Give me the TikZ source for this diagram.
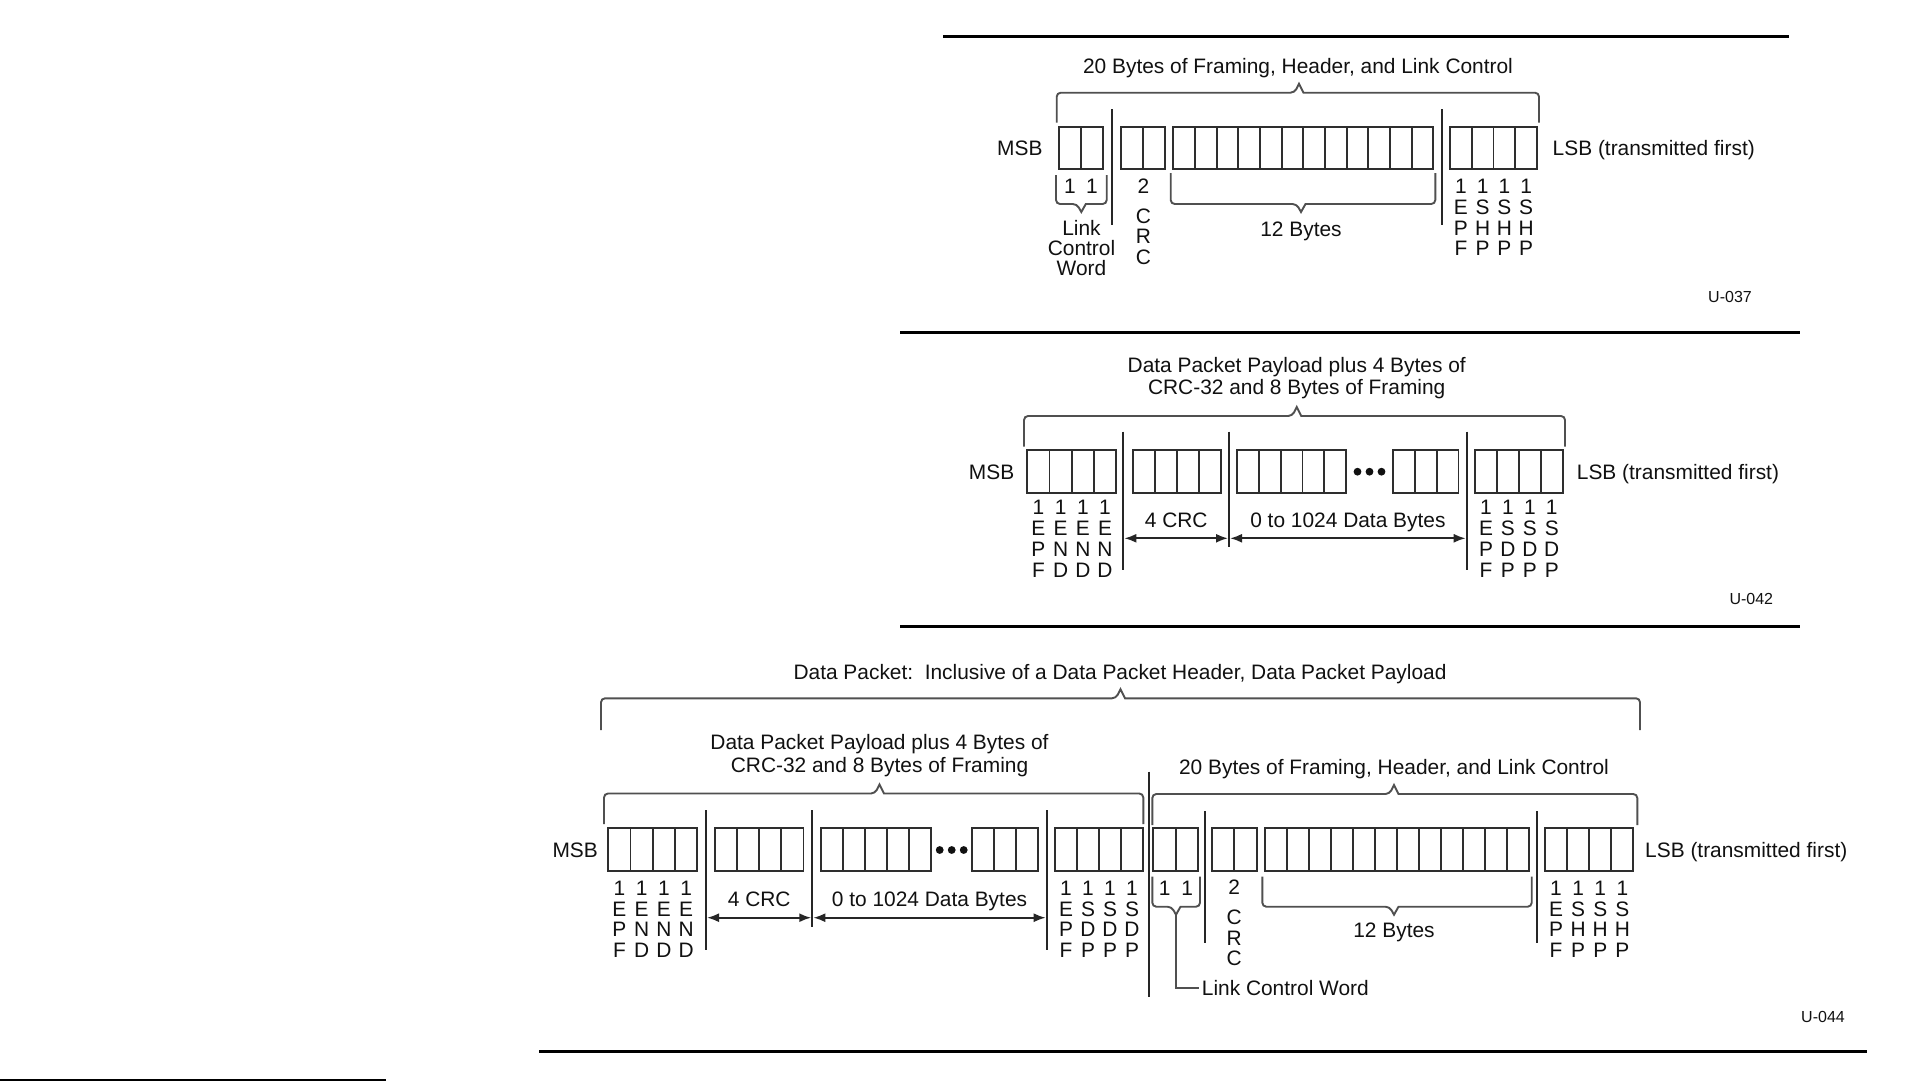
\documentclass[tikz,border=0pt]{standalone}
\usepackage{fontspec}
\setmainfont{Liberation Sans}
\usetikzlibrary{arrows.meta}
\definecolor{txtc}{HTML}{111111}
\definecolor{boxc}{HTML}{2E2E2E}
\definecolor{bracec}{HTML}{505050}
\definecolor{sepc}{HTML}{262626}
\newcommand\lbfont{\fontsize{20.9}{20.9}\selectfont}
\newcommand\ufont{\fontsize{16}{16}\selectfont}
\tikzset{
  cellgrp/.style={draw=boxc, line width=1.8pt, inner sep=0pt, outer sep=0pt, anchor=north west},
  celldiv/.style={draw=boxc, line width=1.8pt},
  lbl/.style={font=\lbfont, text=txtc, inner sep=0pt, anchor=base},
  ulbl/.style={font=\ufont, text=txtc, inner sep=0pt, anchor=base east},
  brace/.style={draw=bracec, line width=1.9pt},
  sepline/.style={draw=sepc, line width=1.9pt},
  rulel/.style={draw=black, line width=3pt},
  dimarrow/.style={draw=sepc, line width=2pt, {Latex[length=12pt,width=9pt]}-{Latex[length=12pt,width=9pt]}},
  dotc/.style={fill=txtc},
}
% name, x, ytop, n, cell width, height
\newcommand\cellgroup[6]{%
  \node[cellgrp, minimum width={(#4)*(#5)*1pt}, minimum height={(#6)*1pt}] (#1) at (#2,#3) {};
  \foreach \k in {1,...,#4}{\ifnum\k<#4\relax\draw[celldiv] ({#2+\k*#5},#3) -- ({#2+\k*#5},{#3+#6});\fi}%
}
% x1, x2, ytop, yend, tipx
\newcommand\topbrace[5]{%
  \draw[brace] (#1,#4) [rounded corners=4pt] -- (#1,#3) -- ({#5-4.5},#3) [sharp corners] -- (#5,{#3-9}) -- ({#5+4.5},#3) [rounded corners=4pt] -- (#2,#3) -- (#2,#4);}
% x1, x2, ytop, ybot, tipx
\newcommand\botbrace[5]{%
  \draw[brace] (#1,#3) [rounded corners=4pt] -- (#1,#4) -- ({#5-4.5},#4) [sharp corners] -- (#5,{#4+8}) -- ({#5+4.5},#4) [rounded corners=4pt] -- (#2,#4) -- (#2,#3);}
% name, x, first baseline, spacing, list
\newcommand\lblcol[5]{%
  \foreach \ch [count=\i] in {#5}{\node[lbl] (#1-\i) at ({#2},{#3+(\i-1)*#4}) {\ch};}}
% name, x, first baseline
\newcommand\crccol[3]{%
  \node[lbl] (#1-1) at (#2,#3) {2};
  \node[lbl] (#1-2) at (#2,{#3+30}) {C};
  \node[lbl] (#1-3) at (#2,{#3+50.5}) {R};
  \node[lbl] (#1-4) at (#2,{#3+71}) {C};}
\begin{document}
\begin{tikzpicture}[x=1pt,y=-1pt]
\useasboundingbox (0,0) rectangle (1921,1081);
\fill[white] (0,0) rectangle (1921,1081);

% ---------------- rules
\draw[rulel] (943,36.5) -- (1789,36.5);
\draw[rulel] (900,332.5) -- (1800,332.5);
\draw[rulel] (900,626) -- (1800,626);
\draw[rulel] (539,1051) -- (1867,1051);
\draw[draw=black, line width=2pt] (0,1079.5) -- (386,1079.5);

% ================= PANEL 1
\node[lbl] (p1title) at (1298,73.2) {20 Bytes of Framing, Header, and Link Control};
\topbrace{1056.7}{1539}{92.7}{122.7}{1299}
\node[lbl, anchor=base east] (p1msb) at (1042.7,155.4) {MSB};
\node[lbl, anchor=base west] (p1lsb) at (1552.5,155.4) {LSB (transmitted first)};
\cellgroup{p1lcw}{1059}{127}{2}{22}{42}
\cellgroup{p1crc}{1121}{127}{2}{22.15}{42}
\cellgroup{p1hdr}{1173.3}{127}{12}{21.67}{42}
\cellgroup{p1frm}{1450}{127}{4}{21.75}{42}
\draw[sepline] (1112,109.3) -- (1112,225);
\draw[sepline] (1442.3,109.3) -- (1442.3,225);
\node[lbl] (p1one1) at (1070,193.4) {1};
\node[lbl] (p1one2) at (1092,193.4) {1};
\botbrace{1056}{1106.7}{175}{204}{1081.3}
\node[lbl] (p1lcwa) at (1081.5,235.7) {Link};
\node[lbl] (p1lcwb) at (1081.5,255.7) {Control};
\node[lbl] (p1lcwc) at (1081.5,275.7) {Word};
\crccol{p1c}{1143.3}{193.4}
\botbrace{1170.7}{1435.3}{173}{204}{1301}
\node[lbl] (p1twelve) at (1301,236.4) {12 Bytes};
\lblcol{p1f1}{1460.9}{193.4}{20.8}{1,E,P,F}
\lblcol{p1f2}{1482.6}{193.4}{20.8}{1,S,H,P}
\lblcol{p1f3}{1504.4}{193.4}{20.8}{1,S,H,P}
\lblcol{p1f4}{1526.1}{193.4}{20.8}{1,S,H,P}
\node[ulbl] (p1u) at (1752,302) {U-037};

% ================= PANEL 2
\node[lbl] (p2titlea) at (1296.7,372.4) {Data Packet Payload plus 4 Bytes of};
\node[lbl] (p2titleb) at (1296.7,394.1) {CRC-32 and 8 Bytes of Framing};
\topbrace{1024}{1565}{416}{446.7}{1296.7}
\node[lbl, anchor=base east] (p2msb) at (1014.4,479) {MSB};
\node[lbl, anchor=base west] (p2lsb) at (1576.7,479) {LSB (transmitted first)};
\cellgroup{p2eop}{1027.3}{450}{4}{22.2}{42.7}
\cellgroup{p2crc}{1133.3}{450}{4}{21.9}{42.7}
\cellgroup{p2da}{1237.3}{450}{5}{21.7}{42.7}
\cellgroup{p2db}{1393.3}{450}{3}{21.7}{42.7}
\cellgroup{p2sdp}{1475}{450}{4}{21.9}{42.7}
\fill[dotc] (1357.5,471.7) circle (3.9pt);
\fill[dotc] (1369.5,471.7) circle (3.9pt);
\fill[dotc] (1381.5,471.7) circle (3.9pt);
\draw[sepline] (1123.3,431.7) -- (1123.3,570);
\draw[sepline] (1229,431.7) -- (1229,546.7);
\draw[sepline] (1466.7,431.7) -- (1466.7,570);
\lblcol{p2e1}{1038.4}{514}{21.1}{1,E,P,F}
\lblcol{p2e2}{1060.6}{514}{21.1}{1,E,N,D}
\lblcol{p2e3}{1082.8}{514}{21.1}{1,E,N,D}
\lblcol{p2e4}{1105}{514}{21.1}{1,E,N,D}
\node[lbl] (p2crclbl) at (1176.2,527.4) {4 CRC};
\node[lbl] (p2datalbl) at (1347.9,527.4) {0 to 1024 Data Bytes};
\coordinate (p2a1) at (1124.3,538.3);
\coordinate (p2a2) at (1228,538.3);
\coordinate (p2a3) at (1230,538.3);
\coordinate (p2a4) at (1465.7,538.3);
\draw[dimarrow] (p2a1) -- (p2a2);
\draw[dimarrow] (p2a3) -- (p2a4);
\lblcol{p2s1}{1486}{514}{21.1}{1,E,P,F}
\lblcol{p2s2}{1507.9}{514}{21.1}{1,S,D,P}
\lblcol{p2s3}{1529.8}{514}{21.1}{1,S,D,P}
\lblcol{p2s4}{1551.7}{514}{21.1}{1,S,D,P}
\node[ulbl] (p2u) at (1773.3,604) {U-042};

% ================= PANEL 3
\node[lbl] (p3title) at (1120,679) {Data Packet:\ \ Inclusive of a Data Packet Header, Data Packet Payload};
\topbrace{601}{1640}{698.3}{730}{1120.5}
\node[lbl] (p3sta) at (879.5,749) {Data Packet Payload plus 4 Bytes of};
\node[lbl] (p3stb) at (879.5,772.5) {CRC-32 and 8 Bytes of Framing};
\topbrace{604}{1143.3}{793.5}{824}{879.5}
\node[lbl] (p3stc) at (1394,774) {20 Bytes of Framing, Header, and Link Control};
\topbrace{1152.3}{1637.3}{794}{825}{1394}
\node[lbl, anchor=base east] (p3msb) at (598,857.4) {MSB};
\node[lbl, anchor=base west] (p3lsb) at (1645,857.4) {LSB (transmitted first)};
\cellgroup{p3eop}{608.3}{828.3}{4}{22.25}{42.4}
\cellgroup{p3crc}{715}{828.3}{4}{22.1}{42.4}
\cellgroup{p3da}{820.7}{828.3}{5}{22.06}{42.4}
\cellgroup{p3db}{972.3}{828.3}{3}{22}{42.4}
\cellgroup{p3sdp}{1055}{828.3}{4}{22}{42.4}
\cellgroup{p3lcw}{1153.3}{828.3}{2}{22.5}{42.4}
\cellgroup{p3crcb}{1211.7}{828.3}{2}{22.5}{42.4}
\cellgroup{p3hdr}{1265}{828.3}{12}{22}{42.4}
\cellgroup{p3frm}{1545}{828.3}{4}{22.08}{42.4}
\fill[dotc] (939.7,850) circle (3.9pt);
\fill[dotc] (951.7,850) circle (3.9pt);
\fill[dotc] (963.7,850) circle (3.9pt);
\draw[sepline] (706,810) -- (706,950);
\draw[sepline] (812.3,810) -- (812.3,926.7);
\draw[sepline] (1046.7,810) -- (1046.7,950);
\draw[sepline] (1149,771.7) -- (1149,996.7);
\draw[sepline] (1205,811) -- (1205,942.7);
\draw[sepline] (1536.7,811) -- (1536.7,942.7);
\lblcol{p3e1}{619.4}{895.5}{20.6}{1,E,P,F}
\lblcol{p3e2}{641.7}{895.5}{20.6}{1,E,N,D}
\lblcol{p3e3}{663.9}{895.5}{20.6}{1,E,N,D}
\lblcol{p3e4}{686.2}{895.5}{20.6}{1,E,N,D}
\node[lbl] (p3crclbl) at (759.2,906.7) {4 CRC};
\node[lbl] (p3datalbl) at (929.5,906.7) {0 to 1024 Data Bytes};
\coordinate (p3a1) at (707,917.7);
\coordinate (p3a2) at (811.3,917.7);
\coordinate (p3a3) at (813.3,917.7);
\coordinate (p3a4) at (1045.7,917.7);
\draw[dimarrow] (p3a1) -- (p3a2);
\draw[dimarrow] (p3a3) -- (p3a4);
\lblcol{p3s1}{1066}{895.5}{20.6}{1,E,P,F}
\lblcol{p3s2}{1088}{895.5}{20.6}{1,S,D,P}
\lblcol{p3s3}{1110}{895.5}{20.6}{1,S,D,P}
\lblcol{p3s4}{1132}{895.5}{20.6}{1,S,D,P}
\node[lbl] (p3one1) at (1164.6,895.5) {1};
\node[lbl] (p3one2) at (1187.1,895.5) {1};
\botbrace{1152.3}{1200}{876.7}{906.7}{1176}
\coordinate (p3lcwtip) at (1176,914.7);
\node[lbl, anchor=base west] (p3lcwlbl) at (1201.7,995.7) {Link Control Word};
\draw[brace] (p3lcwtip) |- ([xshift=-3pt]p3lcwlbl.west);
\crccol{p3c}{1234.2}{894.5}
\botbrace{1262.3}{1531.7}{876.7}{906.7}{1394}
\node[lbl] (p3twelve) at (1394,937.4) {12 Bytes};
\lblcol{p3f1}{1556}{895.5}{20.6}{1,E,P,F}
\lblcol{p3f2}{1578.1}{895.5}{20.6}{1,S,H,P}
\lblcol{p3f3}{1600.2}{895.5}{20.6}{1,S,H,P}
\lblcol{p3f4}{1622.3}{895.5}{20.6}{1,S,H,P}
\node[ulbl] (p3u) at (1845,1022.4) {U-044};
\end{tikzpicture}
\end{document}
